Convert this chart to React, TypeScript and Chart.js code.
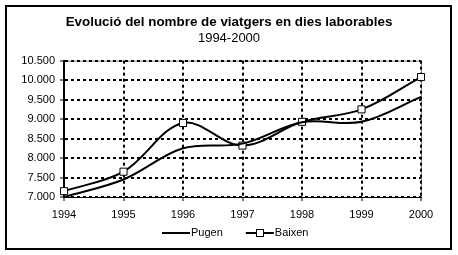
import React, { useEffect, useRef } from 'react';
import { Chart, registerables } from 'chart.js';

Chart.register(...registerables);

const years = ['1994', '1995', '1996', '1997', '1998', '1999', '2000'];
const pugen = [7000, 7450, 8250, 8370, 8920, 8930, 9570];
const baixen = [7150, 7650, 8900, 8320, 8930, 9250, 10080];
const seriesLabels = ['Pugen', 'Baixen'];
const titleText = 'Evolució del nombre de viatgers en dies laborables';
const subtitleText = '1994-2000';
const yMin = 7000;
const yMax = 10500;
const yStep = 500;

const FONT = '"Liberation Sans", Arial, sans-serif';

const fmt = (v: number) => String(v).replace(/\B(?=(\d{3})+(?!\d))/g, '.');

const framePlugin = {
  id: 'frame',
  beforeDraw(chart: any) {
    const ctx = chart.ctx;
    const a = chart.chartArea;
    ctx.save();
    ctx.fillStyle = '#ffffff';
    ctx.fillRect(0, 0, chart.width, chart.height);
    ctx.strokeStyle = '#808080';
    ctx.lineWidth = 1;
    ctx.strokeRect(a.left + 0.5, a.top + 0.5, a.right - a.left, a.bottom - a.top);
    ctx.restore();
  },
  afterDraw(chart: any) {
    const ctx = chart.ctx;
    ctx.save();
    ctx.strokeStyle = '#000';
    ctx.lineWidth = 2;
    ctx.strokeRect(6, 6, 445, 243);

    // legend
    const y = 233;
    ctx.font = `11px ${FONT}`;
    const sample = 28;
    const gap = 1;
    const itemGap = 23;
    const items = chart.data.datasets.map((ds: any) => ({
      ds,
      w: sample + gap + ctx.measureText(ds.label).width,
    }));
    const total = items.reduce((s: number, i: any) => s + i.w, 0) + itemGap * (items.length - 1);
    let x = Math.round(235 - total / 2);
    for (const it of items) {
      const ds = it.ds;
      ctx.strokeStyle = ds.borderColor;
      ctx.lineWidth = 2;
      ctx.beginPath();
      ctx.moveTo(x, y);
      ctx.lineTo(x + sample, y);
      ctx.stroke();
      if (ds.pointRadius > 0) {
        const cx = Math.round(x + sample / 2);
        ctx.fillStyle = '#fff';
        ctx.fillRect(cx - 3.5, y - 3.5, 7, 7);
        ctx.strokeStyle = '#000';
        ctx.lineWidth = 1;
        ctx.strokeRect(cx - 3.5, y - 3.5, 7, 7);
      }
      ctx.fillStyle = '#000';
      ctx.textBaseline = 'middle';
      ctx.textAlign = 'left';
      ctx.fillText(ds.label, x + sample + gap, y);
      x += it.w + itemGap;
    }
    ctx.restore();
  },
};

export default function App() {
  const ref = useRef<HTMLCanvasElement>(null);
  useEffect(() => {
    document.body.style.margin = '0';
    const chart = new Chart(ref.current as HTMLCanvasElement, {
      type: 'line',
      data: {
        labels: years,
        datasets: [
          {
            label: seriesLabels[0],
            data: pugen,
            borderColor: '#000',
            borderWidth: 2,
            pointRadius: 0,
            tension: 0.35,
            fill: false,
            clip: false,
          },
          {
            label: seriesLabels[1],
            data: baixen,
            borderColor: '#000',
            borderWidth: 2,
            pointStyle: 'rect',
            pointRadius: 5,
            pointBackgroundColor: '#fff',
            pointBorderColor: '#000',
            pointBorderWidth: 1,
            tension: 0.35,
            fill: false,
            clip: false,
          },
        ],
      },
      options: {
        animation: false,
        responsive: false,
        devicePixelRatio: 1,
        layout: { padding: { left: 0, right: 0, top: 0, bottom: 0 } },
        plugins: {
          legend: { display: false },
          tooltip: { enabled: false },
          title: {
            display: true,
            text: titleText,
            color: '#000',
            font: { family: FONT, size: 13.4, weight: 'bold' },
            padding: { top: 14, bottom: 0 },
          },
          subtitle: {
            display: true,
            text: subtitleText,
            color: '#000',
            font: { family: FONT, size: 13 },
            padding: { top: 1, bottom: 14 },
          },
        },
        scales: {
          x: {
            type: 'category',
            offset: false,
            afterFit: (s: any) => {
              s.height = 58;
            },
            grid: {
              color: '#000',
              lineWidth: 2,
              tickLength: 4,
              tickColor: '#000',
              tickWidth: 1,
              tickBorderDash: [],
            },
            border: { display: true, color: '#000', width: 1, dash: [3, 3] },
            ticks: {
              color: '#000',
              font: { family: FONT, size: 11 },
              padding: 7,
              maxRotation: 0,
            },
          },
          y: {
            min: yMin,
            max: yMax,
            afterFit: (s: any) => {
              s.width = 64;
            },
            grid: {
              color: '#000',
              lineWidth: 2,
              tickLength: 4,
              tickColor: '#000',
              tickWidth: 1,
              tickBorderDash: [],
            },
            border: { display: true, color: '#000', width: 2, dash: [3, 3] },
            ticks: {
              stepSize: yStep,
              color: '#000',
              font: { family: FONT, size: 11 },
              padding: 5,
              callback: (v: any) => fmt(Number(v)),
            },
          },
          yRight: {
            position: 'right',
            min: yMin,
            max: yMax,
            afterFit: (s: any) => {
              s.width = 37;
            },
            grid: { display: false, drawOnChartArea: false },
            border: { display: false },
            ticks: { display: false },
          },
        },
      },
      plugins: [framePlugin],
    });
    return () => chart.destroy();
  }, []);
  return (
    <div style={{ width: 458, height: 255 }}>
      <canvas ref={ref} width={458} height={255} style={{ display: 'block' }} />
    </div>
  );
}
